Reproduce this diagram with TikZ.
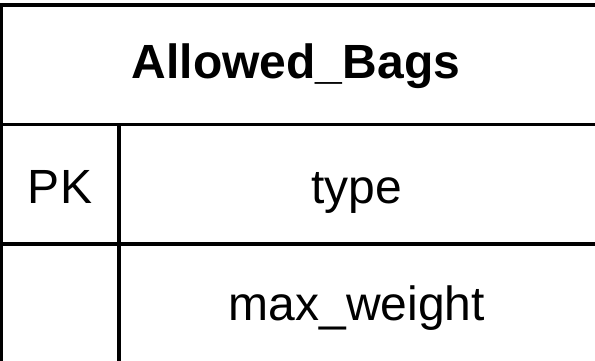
\documentclass[tikz,border=0pt]{standalone}
\usepackage{fontspec}
\setmainfont{Liberation Sans}
\begin{document}
\begin{tikzpicture}[x=1pt, y=1pt, line width=3.5pt,
    cell/.style={anchor=base, inner sep=0pt, font=\fontsize{48}{58}\selectfont},
    head/.style={cell, font=\bfseries\fontsize{48}{58}\selectfont}]
      \clip (0,0) rectangle (595,-361);

      % table frame and rows
      \draw (600,-5) -- (1.5,-5) -- (1.5,-370);
      \draw (1.5,-124.5) -- (600,-124.5);
      \draw (1.5,-244) -- (600,-244);
      \draw (119,-124.5) -- (119,-370);

      \node[head] (title) at (296,-78) {Allowed\_Bags};

      \node[cell] (pk) at (60,-203) {PK};
      \node[cell] (type) at (357,-203) {type};
      \node[cell] (maxw) at (357,-320.5) {max\_weight};
    \end{tikzpicture}
\end{document}
